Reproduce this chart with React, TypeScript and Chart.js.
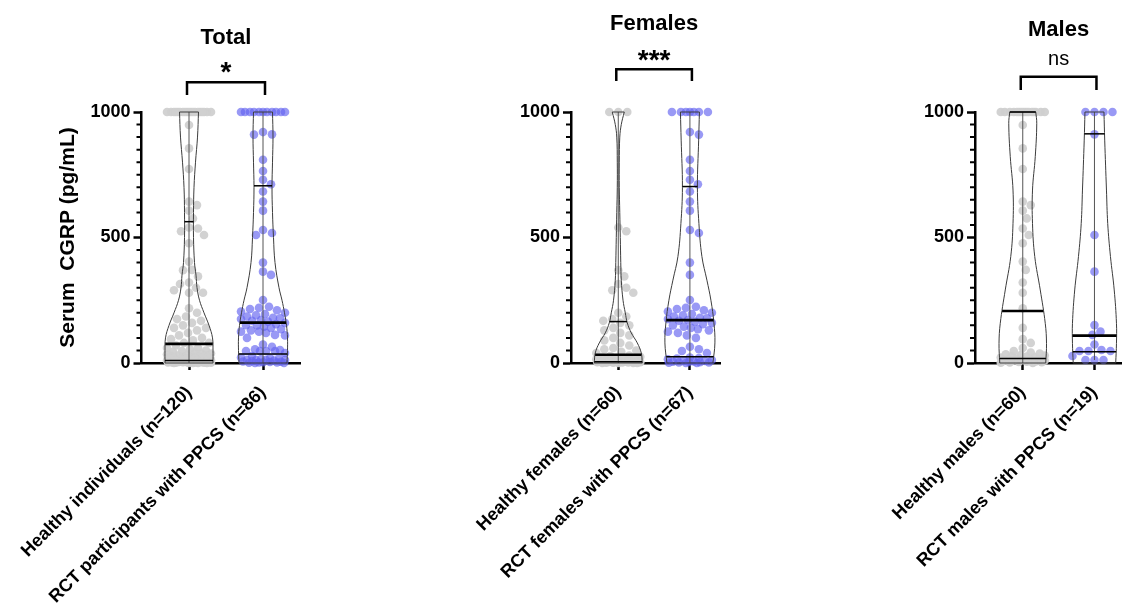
import React, { useEffect, useRef } from "react";
import { Chart, registerables } from "chart.js";
Chart.register(...registerables);

const FONT = '"Liberation Sans", Arial, Helvetica, sans-serif';

// ---------------- data (pg/mL) ----------------
const healthyFemales = [
  1000, 1000, 1000, 540, 525, 370, 345, 315, 300, 290, 280, 200, 185, 175, 168,
  160, 150, 140, 130, 120, 110, 100, 90, 80, 70, 60, 55, 50, 45, 40,
  30, 28, 25, 22, 20, 18, 16, 15, 14, 12, 11, 10, 9, 8, 7, 6, 5, 5, 4, 4,
  3, 3, 2, 2, 1, 1, 0, 0, 0, 0,
];
const rctFemales = [
  1000, 1000, 1000, 1000, 1000, 1000, 1000,
  920, 910, 810, 765, 730, 712, 683, 643, 607, 530, 518, 400, 351, 251, 224,
  220, 215, 210, 205, 200, 195, 190, 185, 180, 178, 175, 171,
  168, 165, 160, 155, 150, 145, 140, 135, 130, 125, 120, 110, 100, 65, 55, 48, 40,
  22, 20, 18, 15, 12, 10, 8, 6, 5, 4, 3, 2, 2, 1, 0, 0,
];
const healthyMales = [
  1000, 1000, 1000, 1000, 1000, 1000, 1000, 1000, 1000, 1000, 1000, 1000, 1000, 1000, 1000, 1000,
  948, 855, 773, 643, 629, 607, 576, 536, 510, 477, 404, 371, 321, 280, 218,
  140, 95, 80, 60, 48, 42, 38, 35, 32, 30, 28, 26, 24, 22,
  18, 16, 15, 13, 12, 10, 9, 8, 6, 5, 4, 3, 2, 1, 0,
];
const rctMales = [1000, 1000, 1000, 1000, 911, 510, 364, 151, 125, 112, 74, 52, 48, 48, 48, 28, 12, 12, 12];
const healthyTotal = healthyFemales.concat(healthyMales);
const rctTotal = rctFemales.concat(rctMales);

const panelTitles = ["Total", "Females", "Males"];
const significanceLabels = ["*", "***", "ns"];
const healthyLabels = ["Healthy individuals (n=120)", "Healthy females (n=60)", "Healthy males (n=60)"];
const rctLabels = ["RCT participants with PPCS (n=86)", "RCT females with PPCS (n=67)", "RCT males with PPCS (n=19)"];
const yTickValues = [0, 500, 1000];
const yMinorStep = 50;
const yAxisTitle = "Serum  CGRP (pg/mL)";

// [Q1, median, Q3]
const healthyTotalStats = [10, 76, 563];
const rctTotalStats = [36, 161, 706];
const healthyFemaleStats = [5, 33, 165];
const rctFemaleStats = [25, 171, 703];
const healthyMaleStats = [18, 207, 1000];
const rctMaleStats = [45, 109, 913];

// violin outlines: value levels and relative half-widths
const healthyTotalLevels = [0, 50, 100, 150, 200, 250, 300, 350, 400, 500, 600, 700, 800, 900, 1000];
const healthyTotalWidths = [0.96, 0.96, 0.94, 0.8, 0.6, 0.42, 0.32, 0.28, 0.22, 0.18, 0.18, 0.2, 0.26, 0.34, 0.38];
const rctTotalLevels = [0, 50, 100, 150, 200, 250, 300, 400, 500, 600, 700, 800, 900, 1000];
const rctTotalWidths = [0.96, 0.98, 0.98, 0.94, 0.86, 0.76, 0.64, 0.48, 0.42, 0.38, 0.36, 0.38, 0.4, 0.38];
const healthyFemaleLevels = [0, 40, 80, 120, 160, 200, 250, 330, 400, 500, 600, 700, 800, 900, 950, 1000];
const healthyFemaleWidths = [0.96, 0.92, 0.76, 0.52, 0.36, 0.28, 0.19, 0.12, 0.1, 0.08, 0.06, 0.04, 0.04, 0.06, 0.12, 0.24];
const rctFemaleLevels = [0, 80, 160, 250, 330, 424, 556, 700, 888, 1000];
const rctFemaleWidths = [0.92, 1.0, 0.96, 0.84, 0.68, 0.48, 0.36, 0.3, 0.35, 0.38];
const healthyMaleLevels = [0, 78, 158, 291, 424, 556, 689, 822, 955, 1000];
const healthyMaleWidths = [0.92, 0.95, 0.9, 0.7, 0.48, 0.39, 0.39, 0.5, 0.56, 0.52];
const rctMaleLevels = [0, 78, 158, 291, 424, 556, 689, 888, 1000];
const rctMaleWidths = [0.85, 0.88, 0.88, 0.79, 0.64, 0.53, 0.48, 0.41, 0.38];

// ---------------- styles / layout ----------------
const W = 1139;
const H = 616;
const PLOT_TOP = 112;
const PLOT_BOTTOM = 363;
const GREY = "rgba(208,208,208,0.95)";
const BLUE = "rgba(100,100,240,0.66)";
const OUTLINE = "#3c3c3c";
const CENTER_LINE = "#555555";
const MAX_HALF_PX = 25;
const POINT_R = 4.3;

const layouts = [
  { left: 141.5, right: 300, xMin: 0.358, xMax: 2.5, showYTitle: true, padLeft: 56,
    titleBase: -68, sigBase: -31, sigFont: `bold 28px ${FONT}`, bracketTop: -29.7, bracketBottom: -17 },
  { left: 571, right: 720, xMin: 0.34, xMax: 2.42, showYTitle: false, padLeft: 0,
    titleBase: -82, sigBase: -43.5, sigFont: `bold 28px ${FONT}`, bracketTop: -42.7, bracketBottom: -31 },
  { left: 975, right: 1121, xMin: 0.334, xMax: 2.37, showYTitle: false, padLeft: 0,
    titleBase: -76.5, sigBase: -47, sigFont: `20px ${FONT}`, bracketTop: -35.3, bracketBottom: -22 },
];

const groups = [
  [
    { values: healthyTotal, stats: healthyTotalStats, levels: healthyTotalLevels, widths: healthyTotalWidths, color: GREY },
    { values: rctTotal, stats: rctTotalStats, levels: rctTotalLevels, widths: rctTotalWidths, color: BLUE },
  ],
  [
    { values: healthyFemales, stats: healthyFemaleStats, levels: healthyFemaleLevels, widths: healthyFemaleWidths, color: GREY },
    { values: rctFemales, stats: rctFemaleStats, levels: rctFemaleLevels, widths: rctFemaleWidths, color: BLUE },
  ],
  [
    { values: healthyMales, stats: healthyMaleStats, levels: healthyMaleLevels, widths: healthyMaleWidths, color: GREY },
    { values: rctMales, stats: rctMaleStats, levels: rctMaleLevels, widths: rctMaleWidths, color: BLUE },
  ],
];

function widthAt(levels: number[], widths: number[], v: number) {
  if (v <= levels[0]) return widths[0];
  for (let i = 1; i < levels.length; i++) {
    if (v <= levels[i]) {
      const t = (v - levels[i - 1]) / (levels[i] - levels[i - 1]);
      return widths[i - 1] + t * (widths[i] - widths[i - 1]);
    }
  }
  return widths[widths.length - 1];
}

// deterministic beeswarm: horizontal offsets (category units)
function swarm(values: number[], unitPx: number, pxPerVal: number) {
  const diameter = POINT_R * 2;
  const maxOff = 22;
  const order = values.map((_, i) => i).sort((a, b) => values[b] - values[a]);
  const placed: { x: number; y: number }[] = [];
  const offsets = new Array(values.length).fill(0);
  for (const i of order) {
    const y = values[i] * pxPerVal;
    let best = 0;
    let bestScore = -Infinity;
    let found = false;
    for (let k = 0; k <= maxOff && !found; k += 1) {
      const cands = k === 0 ? [0] : [k, -k];
      for (const s of cands) {
        let minD = Infinity;
        for (const p of placed) {
          const d = Math.hypot(p.x - s, p.y - y);
          if (d < minD) minD = d;
        }
        if (minD >= diameter) { best = s; found = true; break; }
        if (minD > bestScore + 0.01) { bestScore = minD; best = s; }
      }
    }
    placed.push({ x: best, y });
    offsets[i] = best / unitPx;
  }
  return offsets;
}

function buildDatasets(panel: number, unitPx: number) {
  const ds: any[] = [];
  const maxHalf = MAX_HALF_PX / unitPx;
  const pxPerVal = (PLOT_BOTTOM - PLOT_TOP) / 1000;
  groups[panel].forEach((g, gi) => {
    const c = gi + 1;
    const base = { type: "line", showLine: true, pointRadius: 0, pointHoverRadius: 0, fill: false, clip: false,
      borderColor: OUTLINE, borderWidth: 1, tension: 0, order: 2 };
    const n = g.levels.length;
    ds.push({ ...base, tension: 0.4, data: g.levels.map((v, i) => ({ x: c + g.widths[i] * maxHalf, y: v })) });
    ds.push({ ...base, tension: 0.4, data: g.levels.map((v, i) => ({ x: c - g.widths[i] * maxHalf, y: v })) });
    const wt = g.widths[n - 1] * maxHalf;
    const wb = g.widths[0] * maxHalf;
    ds.push({ ...base, data: [{ x: c - wt, y: g.levels[n - 1] }, { x: c + wt, y: g.levels[n - 1] }] });
    ds.push({ ...base, data: [{ x: c - wb, y: g.levels[0] }, { x: c + wb, y: g.levels[0] }] });
    ds.push({ ...base, borderColor: CENTER_LINE, data: [{ x: c, y: Math.min(...g.values) }, { x: c, y: Math.max(...g.values) }] });
    g.stats.forEach((s, si) => {
      const w = widthAt(g.levels, g.widths, s) * maxHalf;
      ds.push({ ...base, borderColor: "#000", borderWidth: si === 1 ? 2.6 : 1.5, order: 1,
        data: [{ x: c - w, y: s }, { x: c + w, y: s }] });
    });
    const offs = swarm(g.values, unitPx, pxPerVal);
    ds.push({ type: "scatter", order: 5, clip: false,
      data: g.values.map((v, i) => ({ x: c + offs[i], y: v })),
      pointRadius: POINT_R, pointHoverRadius: POINT_R, pointBorderWidth: 0,
      backgroundColor: g.color, pointBackgroundColor: g.color, borderWidth: 0 });
  });
  return ds;
}

const annotationPlugin = {
  id: "annot",
  afterDraw(chart: any, _args: any, opts: any) {
    const { ctx, chartArea, scales } = chart;
    const x1 = scales.x.getPixelForValue(1);
    const x2 = scales.x.getPixelForValue(2);
    const top = chartArea.top;
    const mid = (x1 + x2) / 2;
    ctx.save();
    ctx.fillStyle = "#000";
    ctx.textAlign = "center";
    ctx.textBaseline = "alphabetic";
    ctx.font = `bold 22px ${FONT}`;
    ctx.fillText(opts.title, mid, top + opts.titleBase);
    ctx.font = opts.sigFont;
    ctx.fillText(opts.sig, mid, top + opts.sigBase);
    ctx.strokeStyle = "#000";
    ctx.lineWidth = 2.5;
    ctx.lineJoin = "miter";
    ctx.beginPath();
    ctx.moveTo(x1 - 2, top + opts.bracketBottom);
    ctx.lineTo(x1 - 2, top + opts.bracketTop);
    ctx.lineTo(x2 + 2, top + opts.bracketTop);
    ctx.lineTo(x2 + 2, top + opts.bracketBottom);
    ctx.stroke();
    // minor y ticks
    ctx.lineWidth = 2;
    ctx.beginPath();
    for (let v = yMinorStep; v < 1000; v += yMinorStep) {
      if (yTickValues.includes(v)) continue;
      const y = scales.y.getPixelForValue(v);
      ctx.moveTo(chartArea.left - 5, y);
      ctx.lineTo(chartArea.left, y);
    }
    ctx.stroke();
    ctx.restore();
  },
};

function Panel({ index }: { index: number }) {
  const ref = useRef<HTMLCanvasElement>(null);
  useEffect(() => {
    const L = layouts[index];
    const unitPx = (L.right - L.left) / (L.xMax - L.xMin);
    const yWidth = L.left - L.padLeft;
    const chart = new Chart(ref.current as HTMLCanvasElement, {
      type: "scatter",
      data: { datasets: buildDatasets(index, unitPx) },
      options: {
        responsive: false,
        maintainAspectRatio: false,
        animation: false,
        events: [],
        layout: { padding: { left: L.padLeft, right: W - L.right, top: PLOT_TOP, bottom: 0 } },
        plugins: {
          legend: { display: false },
          tooltip: { enabled: false },
          annot: {
            title: panelTitles[index], sig: significanceLabels[index], titleBase: L.titleBase,
            sigBase: L.sigBase, sigFont: L.sigFont, bracketTop: L.bracketTop, bracketBottom: L.bracketBottom,
          },
        } as any,
        scales: {
          x: {
            type: "linear",
            min: L.xMin,
            max: L.xMax,
            afterBuildTicks: (s: any) => { s.ticks = [{ value: 1 }, { value: 2 }]; },
            afterFit: (s: any) => { s.height = H - PLOT_BOTTOM; s.paddingLeft = 0; s.paddingRight = 0; },
            grid: { display: true, drawOnChartArea: false, drawTicks: true, tickLength: 7, tickWidth: 2.5, tickColor: "#000" },
            border: { display: true, width: 2.5, color: "#000" },
            ticks: {
              autoSkip: false, minRotation: 45, maxRotation: 45, padding: 12, color: "#000",
              font: { family: FONT, size: 18, weight: "bold" },
              callback: (v: any) => (v === 1 ? healthyLabels[index] : rctLabels[index]),
            },
          },
          y: {
            type: "linear",
            min: 0,
            max: 1000,
            afterBuildTicks: (s: any) => { s.ticks = yTickValues.map((v) => ({ value: v })); },
            afterFit: (s: any) => { s.width = yWidth; s.paddingTop = 0; s.paddingBottom = 0; },
            grid: { display: true, drawOnChartArea: false, drawTicks: true, tickLength: 8, tickWidth: 2.5, tickColor: "#000" },
            border: { display: true, width: 2.5, color: "#000" },
            ticks: {
              padding: 3, color: "#000", font: { family: FONT, size: 18, weight: "bold" },
              callback: (v: any) => String(v),
            },
            title: {
              display: L.showYTitle, text: yAxisTitle, color: "#000", padding: { top: 0, bottom: 0 },
              font: { family: FONT, size: 21, weight: "bold" },
            },
          },
        },
      } as any,
      plugins: [annotationPlugin as any],
    });
    return () => chart.destroy();
  }, [index]);
  return (
    <canvas ref={ref} width={W} height={H}
      style={{ position: "absolute", left: 0, top: 0, width: W, height: H }} />
  );
}

export default function App() {
  return (
    <div style={{ position: "fixed", left: 0, top: 0, width: W, height: H, background: "#fff" }}>
      <Panel index={0} />
      <Panel index={1} />
      <Panel index={2} />
    </div>
  );
}
